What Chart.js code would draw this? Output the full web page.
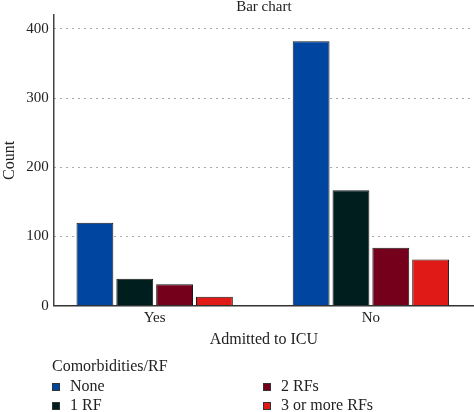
<!DOCTYPE html>
<html lang="en">
<head>
  <meta charset="UTF-8">
  <title>Bar chart</title>
  <script src="https://cdn.jsdelivr.net/npm/chart.js"></script>
  <style>
    body { margin: 0; background: #fff; }
    .wrap { width: 474px; height: 412px; position: relative; }
  </style>
</head>
<body>
  <div class="wrap"><canvas id="icuChart"></canvas></div>
  <script>
    const categories = ['Yes', 'No'];
    const seriesNames = ['None', '1 RF', '2 RFs', '3 or more RFs'];
    const noneCounts = [120, 382];
    const oneRfCounts = [39, 167];
    const twoRfCounts = [31, 84];
    const threePlusCounts = [13, 67];
    const yTicks = [0, 100, 200, 300, 400];
    const colors = ['#0046a1', '#011e1e', '#75001b', '#e01a17'];

    const serif = "'Liberation Serif', 'DejaVu Serif', serif";
    const allCounts = [noneCounts, oneRfCounts, twoRfCounts, threePlusCounts];

    // legend drawn in two columns, column-major like the original
    const legendPlugin = {
      id: 'colLegend',
      afterDraw(chart) {
        const ctx = chart.ctx;
        ctx.save();
        ctx.font = '16px ' + serif;
        ctx.fillStyle = '#222';
        ctx.textBaseline = 'middle';
        ctx.fillText('Comorbidities/RF', 52, 367);
        chart.data.datasets.forEach((ds, i) => {
          const col = Math.floor(i / 2), row = i % 2;
          const x = col === 0 ? 52 : 263;
          const y = 387 + row * 19;
          ctx.fillStyle = ds.backgroundColor;
          ctx.fillRect(x, y - 4, 8, 8);
          ctx.strokeStyle = '#333';
          ctx.lineWidth = 1;
          ctx.strokeRect(x + 0.5, y - 3.5, 7, 7);
          ctx.fillStyle = '#222';
          ctx.fillText(ds.label, x + 18, y);
        });
        ctx.restore();
      }
    };

    new Chart(document.getElementById('icuChart'), {
      type: 'bar',
      data: {
        labels: categories,
        datasets: seriesNames.map((name, i) => ({
          label: name,
          data: allCounts[i].map((v, j) => ({ x: j, y: v })),
          backgroundColor: colors[i],
          borderColor: '#1a1a1a',
          borderWidth: 1,
          categoryPercentage: 0.737,
          barPercentage: 0.925
        }))
      },
      options: {
        responsive: true,
        maintainAspectRatio: false,
        animation: false,
        layout: { padding: { top: 0, right: 0, bottom: 63, left: 0 } },
        plugins: {
          legend: { display: false },
          tooltip: { enabled: false },
          title: {
            display: true,
            fullSize: false,
            text: 'Bar chart',
            color: '#222',
            font: { family: serif, size: 15, weight: 'normal', lineHeight: 1 },
            padding: { top: 0, bottom: 0 }
          }
        },
        scales: {
          x: {
            type: 'linear',
            offset: false,
            bounds: 'data',
            min: -0.467,
            max: 1.477,
            afterBuildTicks: s => { s.ticks = categories.map((c, i) => ({ value: i })); },
            ticks: {
              color: '#222',
              font: { family: serif, size: 15 },
              padding: 3,
              callback: v => categories[v]
            },
            grid: { display: false, drawTicks: false, offset: false },
            border: { display: true, color: '#333', width: 1.5 },
            title: {
              display: true,
              text: 'Admitted to ICU',
              color: '#222',
              font: { family: serif, size: 16 },
              padding: { top: 0, bottom: 0 }
            }
          },
          y: {
            min: 0,
            max: 420,
            afterBuildTicks: s => { s.ticks = yTicks.map(v => ({ value: v })); },
            ticks: {
              color: '#222',
              font: { family: serif, size: 15 },
              padding: 5
            },
            grid: {
              drawTicks: false,
              color: ctx => ctx.tick && ctx.tick.value === 0 ? 'rgba(0,0,0,0)' : '#555',
              lineWidth: 1
            },
            border: { display: true, color: '#444', width: 1.5, dash: [1, 5] },
            title: {
              display: true,
              text: 'Count',
              color: '#222',
              font: { family: serif, size: 16 },
              padding: { top: 0, bottom: 2 }
            }
          }
        }
      },
      plugins: [legendPlugin]
    });
  </script>
</body>
</html>
